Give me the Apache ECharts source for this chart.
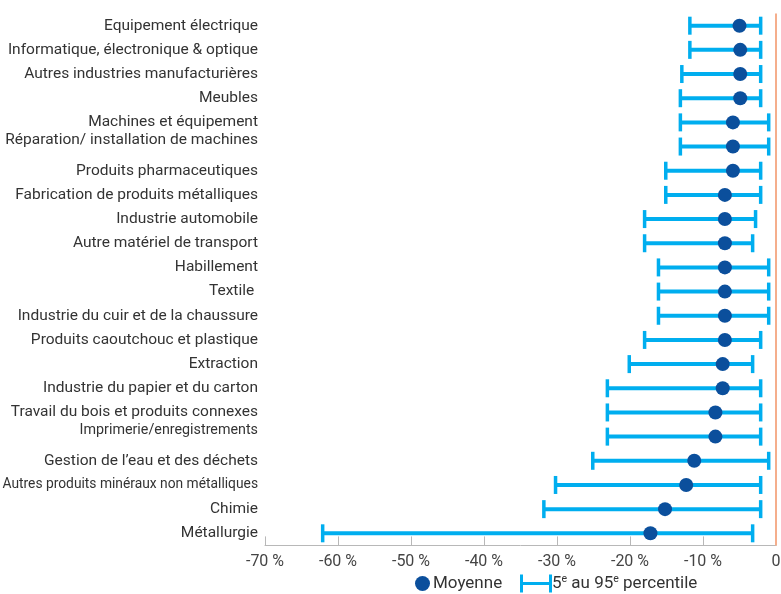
<!DOCTYPE html>
<html>
<head>
<meta charset="utf-8">
<script src="https://cdn.jsdelivr.net/npm/echarts@6/dist/echarts.min.js"></script>
<style>
  html, body { margin: 0; padding: 0; background: #fff; }
  #chart { width: 781px; height: 594px; }
</style>
</head>
<body>
<div id="chart"></div>
<script>
// Sectors, top to bottom
const sectors = [
  'Equipement électrique',
  'Informatique, électronique & optique',
  'Autres industries manufacturières',
  'Meubles',
  'Machines et équipement',
  'Réparation/ installation de machines',
  'Produits pharmaceutiques',
  'Fabrication de produits métalliques',
  'Industrie automobile',
  'Autre matériel de transport',
  'Habillement',
  'Textile ',
  'Industrie du cuir et de la chaussure',
  'Produits caoutchouc et plastique',
  'Extraction',
  'Industrie du papier et du carton',
  'Travail du bois et produits connexes',
  'Imprimerie/enregistrements',
  'Gestion de l\u2019eau et des déchets',
  'Autres produits minéraux non métalliques',
  'Chimie',
  'Métallurgie'
];

// Mean change (%)
const meanValues = [-5.0, -4.9, -4.9, -4.9, -5.9, -5.9, -5.9, -7.0, -7.0, -7.0, -7.0,
  -7.0, -7.0, -7.0, -7.3, -7.3, -8.3, -8.3, -11.2, -12.3, -15.2, -17.2];

// 5th percentile (%)
const p5Values = [-11.8, -11.8, -12.9, -13.1, -13.1, -13.1, -15.1, -15.1, -18.0, -18.0, -16.1,
  -16.1, -16.1, -18.0, -20.1, -23.1, -23.1, -23.1, -25.1, -30.2, -31.8, -62.1];

// 95th percentile (%)
const p95Values = [-2.1, -2.1, -2.1, -2.1, -1.0, -1.0, -2.1, -2.1, -2.8, -3.2, -1.0,
  -1.0, -1.0, -2.1, -3.2, -2.1, -2.1, -2.1, -1.0, -2.1, -2.1, -3.2];

const xTicks = [-70, -60, -50, -40, -30, -20, -10, 0];

const seriesNames = ['Moyenne', '5e au 95e percentile'];

// Long labels set in a tighter size; two labels sit a little higher in their row
const tightLabels = {
  'Autres produits minéraux non métalliques': 'tightA',
  'Imprimerie/enregistrements': 'tightB'
};
const raisedLabels = ['Réparation/ installation de machines'];

const DOT = '#0b4f9c';
const BAR = '#00aeef';
const TEXT = '#333333';

const chart = echarts.init(document.getElementById('chart'), null, { renderer: 'canvas' });

const rangeData = sectors.map((s, i) => [i, p5Values[i], p95Values[i]]);
const meanData = sectors.map((s, i) => [meanValues[i], i]);

function renderRange(params, api) {
  const idx = api.value(0);
  const lo = api.coord([api.value(1), idx]);
  const hi = api.coord([api.value(2), idx]);
  const capH = 18;
  return {
    type: 'group',
    children: [
      { type: 'line', shape: { x1: lo[0], y1: lo[1], x2: hi[0], y2: hi[1] }, style: { stroke: BAR, lineWidth: 4 } },
      { type: 'line', shape: { x1: lo[0], y1: lo[1] - capH / 2, x2: lo[0], y2: lo[1] + capH / 2 }, style: { stroke: BAR, lineWidth: 3.5 } },
      { type: 'line', shape: { x1: hi[0], y1: hi[1] - capH / 2, x2: hi[0], y2: hi[1] + capH / 2 }, style: { stroke: BAR, lineWidth: 3.5 } }
    ]
  };
}

const option = {
  backgroundColor: '#ffffff',
  animation: false,
  textStyle: { fontFamily: 'Roboto, "Noto Sans", sans-serif' },
  grid: { left: 265, right: 5, top: 13.6, bottom: 48.6, containLabel: false, outerBoundsMode: 'none' },
  legend: [
    {
      data: [{ name: seriesNames[0], icon: 'circle', itemStyle: { color: DOT } }],
      left: 410, top: 570,
      itemWidth: 15, itemHeight: 15, itemGap: 4,
      textStyle: { fontSize: 17, color: TEXT, padding: [0, 0, 0, -2] },
      selectedMode: false
    },
    {
      data: [{
        name: seriesNames[1],
        icon: 'path://M0 0H3V7.6H29V0H32V18H29V10.4H3V18H0Z',
        itemStyle: { color: BAR }
      }],
      left: 515, top: 569,
      itemWidth: 32, itemHeight: 18,
      formatter: () => '5{sup|e} au 95{sup|e} percentile',
      textStyle: {
        fontSize: 17, color: TEXT, padding: [0, 0, 0, -5],
        rich: { sup: { fontSize: 10.5, color: TEXT, verticalAlign: 'top', padding: [0, 0, 8, 0] } }
      },
      selectedMode: false
    }
  ],
  xAxis: {
    type: 'value',
    min: xTicks[0],
    max: xTicks[xTicks.length - 1],
    interval: 10,
    splitLine: { show: false },
    axisLine: { show: true, lineStyle: { color: '#b8b8b8', width: 1 } },
    axisTick: { show: true, inside: true, length: 9, lineStyle: { color: '#b8b8b8' } },
    axisLabel: {
      color: '#444', fontSize: 16, margin: 9,
      formatter: v => (v === 0 ? '0' : v + ' %')
    }
  },
  yAxis: {
    type: 'category',
    data: sectors,
    inverse: true,
    axisLine: { show: false },
    axisTick: { show: false },
    splitLine: { show: false },
    axisLabel: {
      color: TEXT, fontSize: 15.5, margin: 7,
      formatter: v => {
        if (tightLabels[v]) return '{' + tightLabels[v] + '|' + v + '}';
        return raisedLabels.includes(v) ? '{up|' + v + '}' : v;
      },
      rich: {
        tightA: { fontSize: 13.8, color: TEXT },
        tightB: { fontSize: 14.3, color: TEXT, padding: [0, 0, 12, 0] },
        up: { fontSize: 15.5, color: TEXT, padding: [0, 0, 12, 0] }
      }
    }
  },
  series: [
    {
      name: seriesNames[1],
      type: 'custom',
      renderItem: renderRange,
      encode: { x: [1, 2], y: 0 },
      data: rangeData,
      itemStyle: { color: BAR },
      z: 2
    },
    {
      name: seriesNames[0],
      type: 'scatter',
      data: meanData,
      symbol: 'circle',
      symbolSize: 14,
      itemStyle: { color: DOT, opacity: 1 },
      z: 3,
      markLine: {
        silent: true,
        symbol: ['none', 'none'],
        label: { show: false },
        lineStyle: { color: '#f5ae8c', width: 2, type: 'solid' },
        data: [{ xAxis: 0 }]
      }
    }
  ]
};

chart.setOption(option);
</script>
</body>
</html>
